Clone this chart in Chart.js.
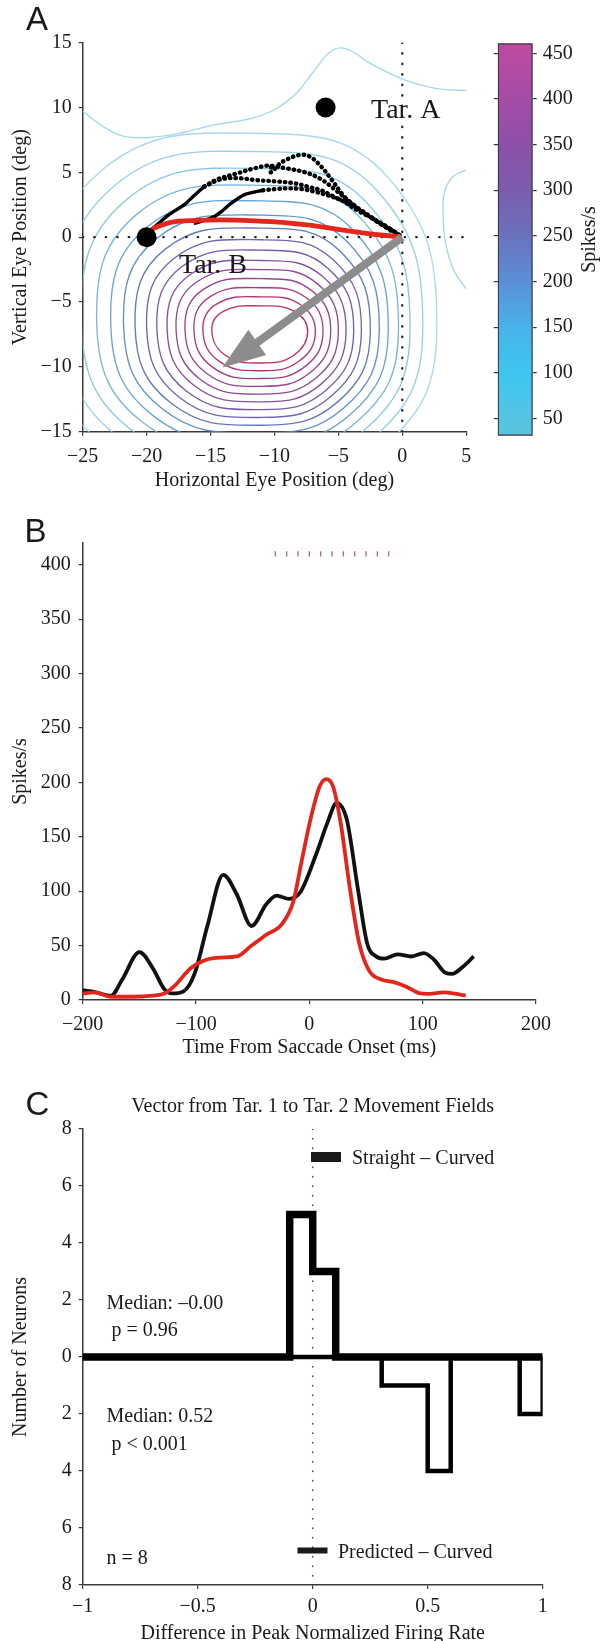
<!DOCTYPE html>
<html>
<head>
<meta charset="utf-8">
<script src="https://cdn.jsdelivr.net/npm/chart.js@4.4.1/dist/chart.umd.min.js"></script>
<style>
  body { margin: 0; background: #fff; width: 602px; height: 1641px; position: relative; overflow: hidden; }
  canvas { position: absolute; }
</style>
</head>
<body>
<canvas id="chartA" width="480" height="493" style="left:0;top:0"></canvas>
<canvas id="chartCb" width="122" height="493" style="left:480px;top:0"></canvas>
<canvas id="chartB" width="560" height="560" style="left:0;top:500px"></canvas>
<canvas id="chartC" width="560" height="566" style="left:0;top:1080px"></canvas>
<script>
// ---------- panel A: movement field + eye traces ----------
const xTicksA = [-25, -20, -15, -10, -5, 0, 5];
const yTicksA = [-15, -10, -5, 0, 5, 10, 15];
const targetA = [[-6, 10]];
const targetB = [[-20, 0]];

// contour rings, innermost first (x, y in deg)
const rings = [
  [[-14.9,-7.2],[-13.96,-5.7],[-11,-5.3],[-8.41,-5.74],[-7.4,-7.3],[-8.48,-9.1],[-11,-9.7],[-13.81,-9.12]],
  [[-15.6,-7.17],[-14.5,-5.14],[-11,-4.6],[-7.98,-5.19],[-6.8,-7.3],[-8.06,-9.55],[-11,-10.3],[-14.31,-9.58]],
  [[-16.3,-7.13],[-15.03,-4.58],[-11,-3.9],[-7.54,-4.65],[-6.2,-7.3],[-7.64,-10.0],[-11,-10.9],[-14.82,-10.04]],
  [[-17,-7.1],[-15.56,-4.02],[-11,-3.2],[-7.11,-4.1],[-5.6,-7.3],[-7.22,-10.45],[-11,-11.5],[-15.32,-10.49]],
  [[-17.7,-7.06],[-16.09,-3.46],[-11,-2.5],[-6.68,-3.56],[-5,-7.3],[-6.8,-10.9],[-11,-12.1],[-15.82,-10.95]],
  [[-18.4,-7.03],[-16.62,-2.9],[-11,-1.8],[-6.25,-3.01],[-4.4,-7.3],[-6.38,-11.35],[-11,-12.7],[-16.33,-11.4]],
  [[-19.2,-6.99],[-17.23,-2.26],[-11,-1.0],[-5.82,-2.39],[-3.8,-7.3],[-5.96,-11.8],[-11,-13.3],[-16.9,-11.86]],
  [[-20,-6.95],[-17.84,-1.62],[-11,-0.2],[-5.38,-1.76],[-3.2,-7.3],[-5.54,-12.25],[-11,-13.9],[-17.48,-12.32]],
  [[-20.9,-6.9],[-18.52,-0.9],[-11,0.7],[-4.88,-1.06],[-2.5,-7.3],[-5.05,-12.7],[-11,-14.5],[-18.13,-12.77]],
  [[-21.8,-6.85],[-19.21,-0.1],[-11,1.7],[-4.38,-0.28],[-1.8,-7.3],[-4.56,-13.15],[-11,-15.1],[-18.78,-13.23]],
  [[-22.8,-6.8],[-19.97,0.78],[-11,2.8],[-3.87,0.58],[-1.1,-7.3],[-4.07,-13.68],[-11,-15.8],[-19.5,-13.76]],
  [[-23.9,-6.74],[-20.8,1.74],[-11,4.0],[-3.3,1.51],[-0.3,-7.3],[-3.51,-14.2],[-11,-16.5],[-20.29,-14.29]],
  [[-25.1,-6.67],[-21.72,2.78],[-11,5.3],[-2.65,2.53],[0.6,-7.3],[-2.88,-14.8],[-11,-17.3],[-21.15,-14.9]],
  [[-26.4,-6.6],[-22.7,3.82],[-11,6.6],[-1.93,3.54],[1.6,-7.3],[-2.18,-15.4],[-11,-18.1],[-22.09,-15.51]],
  [[-27.8,-6.54],[-23.77,4.94],[-11,8.0],[-1.14,4.63],[2.7,-7.3],[-1.41,-16.08],[-11,-19.0],[-23.1,-16.19]]
];
const ringColors = ['#c22e62','#b83474','#aa3c84','#9c4490','#904a98','#8452a0','#785caa','#6c68b4',
                    '#647abf','#6290cc','#68a6d8','#78b8e0','#8ac6e6','#9ccfea','#acd8ee'];
const topContour = [[-25,9.7],[-23,8.3],[-21.3,7.7],[-18,7.9],[-15,8.6],[-11,9.4],[-8.5,10.9],[-7,12.7],
                    [-5.5,14.4],[-4.3,14.5],[-2.5,13.4],[0,12.2],[2.5,11.5],[5,11.3]];
const rightContour = [[5,5.2],[4,4.7],[3.3,3.5],[3.2,1.5],[3.4,-0.5],[4,-2.5],[5,-4]];

// eye traces
const redPath = [[-19.45,0.7],[-18.1,1.15],[-16,1.3],[-14,1.33],[-12,1.28],[-10.15,1.2],[-8,1.0],
                 [-6.3,0.8],[-3.8,0.43],[-1.7,0.17],[-0.2,0.05]];
const blackStart = [[-19.6,0.6],[-18.9,1.2],[-18.3,1.7],[-17.0,2.55],[-16.3,3.2],[-15.5,3.9]];
const blackTop = [[-15.5,3.9],[-14.5,4.45],[-13,4.9],[-11.4,5.35],[-10.3,5.5],[-10.3,5.0],[-9.4,5.8],
                  [-8.0,6.35],[-7.2,6.2],[-6.3,5.4],[-5.5,4.4],[-4.5,3.1],[-3.3,2.1],[-1.7,1.05],[-0.2,0.15]];
const blackSecond = [[-10.2,5.5],[-9.0,5.3],[-7.6,5.0],[-6.4,4.5],[-5.3,3.7],[-4.2,2.8],[-3.0,1.9],[-1.6,0.95],[-0.2,0.1]];
const blackMid = [[-15.5,3.9],[-14.2,4.46],[-12.8,4.55],[-11.4,4.4],[-9.8,4.3],[-8.4,4.15],[-7.2,3.85],[-6.3,3.6],
                  [-5.3,3.1],[-4.5,2.7],[-3.4,2.0],[-2.5,1.55],[-1.2,0.8],[-0.2,0.15]];
const blackLowStart = [[-16.3,1.05],[-15.5,1.3],[-14.7,1.6],[-14.0,2.1],[-13.4,2.6],[-12.4,3.25],[-11.5,3.5],[-10.9,3.62]];
const blackLow = [[-10.9,3.62],[-9.8,3.72],[-8.9,3.77],[-7.8,3.7],[-6.8,3.5],[-5.9,3.25],[-5.0,2.95],[-4.2,2.6],
                  [-3.3,2.1],[-2.5,1.6],[-1.7,1.05],[-0.9,0.6],[-0.2,0.15]];
const arrowShaft = [[0,0],[-11.6,-8.3]];
const arrowHead = [[-12.04,-7.19],[-14,-10],[-10.71,-9.07],[-12.04,-7.19]];

// ---------- colour bar ----------
const cbRange = [31, 461];
const cbTicks = [50, 100, 150, 200, 250, 300, 350, 400, 450];
const cbStops = [[31,'#5cc3df'],[100,'#3ec6f0'],[150,'#49b2ea'],[200,'#5a8fd6'],[250,'#6b72bd'],
                 [300,'#7b5cae'],[350,'#8d50aa'],[400,'#a44ca6'],[461,'#bf4aa0']];

// ---------- panel B: firing rate ----------
const xTicksB = [-200, -100, 0, 100, 200];
const yTicksB = [0, 50, 100, 150, 200, 250, 300, 350, 400];
const blackT = [-200,-192,-175,-165,-150,-138,-128,-121,-111,-101,-90,-76,-64,-51,-38,-29,-18,-8,6,16,24,33,43,51,59,66,78,90,101,110,120,126,135,145];
const blackRate = [9,8,4,19,44,29,10,6,8,25,68,115,97,68,88,96,93,99,134,163,181,166,101,52,40,38,42,40,43,37,25,24,30,40];
const redT = [-200,-190,-175,-155,-138,-128,-118,-105,-91,-78,-64,-51,-38,-24,-14,-7.5,1,9,15,21,27.6,36,44,52.7,62.8,76,86,96,106,118,130,138];
const redRate = [6,7,3,3,4,6,14,29,37,39,40,50,60,70,91,124,166,196,203,196,163,101,52,27,19,16,12,6.6,5.6,7,5.6,4];
const stimTicks = [-30,-20,-10,0,10,20,30,40,50,60,70];

// ---------- panel C: histogram ----------
const xTicksC = [-1, -0.5, 0, 0.5, 1];
const yTicksC = [-8, -6, -4, -2, 0, 2, 4, 6, 8];
const binEdges = [-1,-0.9,-0.8,-0.7,-0.6,-0.5,-0.4,-0.3,-0.2,-0.1,0,0.1,0.2,0.3,0.4,0.5,0.6,0.7,0.8,0.9,1];
const straightCounts = [0,0,0,0,0,0,0,0,0,5,3,0,0,0,0,0,0,0,0,0];
const predictedCounts = [0,0,0,0,0,0,0,0,0,0,0,0,0,1,1,4,0,0,0,2];

const serif = '"Liberation Serif", "Times New Roman", serif';
const sans = '"Liberation Sans", Arial, sans-serif';
const ink = '#1a1a1a';
const axisGrey = '#3a3a3a';
const minus = v => (v < 0 ? '\u2212' + Math.abs(v) : String(v));

Chart.defaults.font.family = serif;
Chart.defaults.font.size = 20;
Chart.defaults.color = ink;

const pts = a => a.map(p => ({ x: p[0], y: p[1] }));
// closed ring: wrap one point on each side so the spline is smooth at the seam,
// then hide the two helper segments
const loop = a => pts([a[a.length - 1]].concat(a, [a[0], a[1]]));

const notes = {
  id: 'notes',
  afterDraw(chart, args, opts) {
    const c = chart.ctx;
    (opts.boxes || []).forEach(b => {
      c.fillStyle = b.color || ink;
      c.fillRect(b.x, b.y, b.w, b.h);
    });
    (opts.items || []).forEach(it => {
      c.save();
      c.font = it.font;
      c.fillStyle = it.color || ink;
      c.textAlign = it.align || 'left';
      c.textBaseline = it.baseline || 'alphabetic';
      c.translate(it.x, it.y);
      if (it.rot) c.rotate(it.rot);
      c.fillText(it.text, 0, 0);
      c.restore();
    });
  }
};

function axis(opts) {
  return {
    type: 'linear',
    min: opts.min, max: opts.max,
    afterBuildTicks: s => { s.ticks = opts.ticks.map(v => ({ value: v })); },
    afterFit: s => { if (opts.w !== undefined) s.width = opts.w; if (opts.h !== undefined) s.height = opts.h; },
    grid: { drawOnChartArea: false, tickLength: 4, color: axisGrey, lineWidth: 1.2 },
    border: { color: axisGrey, width: 1.5 },
    ticks: {
      font: { family: serif, size: 20 }, color: ink, padding: opts.pad,
      maxRotation: 0, autoSkip: false, callback: opts.fmt || (v => minus(v))
    },
    title: opts.title ? { display: true, text: opts.title, font: { family: serif, size: 20 }, color: ink, padding: 0 } : { display: false }
  };
}

const common = {
  responsive: false,
  animation: false,
  events: [],
  elements: { line: { capBezierPoints: false } }
};

// ---- chart A ----
const dsA = [];
rings.forEach((r, i) => {
  const last = r.length + 2;
  dsA.push({ data: loop(r), showLine: true, borderColor: ringColors[i], borderWidth: 1.35,
             pointRadius: 0, tension: 0.45, order: 10,
             segment: { borderColor: ctx => (ctx.p0DataIndex === 0 || ctx.p1DataIndex === last ? 'rgba(0,0,0,0)' : undefined) } });
});
[topContour, rightContour].forEach(r => {
  dsA.push({ data: pts(r), showLine: true, borderColor: '#a6d8ea', borderWidth: 1.35, pointRadius: 0, tension: 0.4, order: 10 });
});
dsA.push({ data: [{x:-25,y:0},{x:5,y:0}], showLine: true, borderColor: '#222', borderWidth: 2.2,
           borderDash: [0.5, 11], borderCapStyle: 'round', pointRadius: 0, order: 9 });
dsA.push({ data: [{x:0,y:-15},{x:0,y:15}], showLine: true, borderColor: '#222', borderWidth: 2.2,
           borderDash: [0.5, 10], borderCapStyle: 'round', pointRadius: 0, order: 9 });
[blackStart, blackLowStart].forEach(p => {
  dsA.push({ data: pts(p), showLine: true, borderColor: '#000', borderWidth: 3.4, pointRadius: 0, tension: 0.3, order: 5 });
});
[blackTop, blackSecond, blackMid, blackLow].forEach(p => {
  dsA.push({ data: pts(p), showLine: true, borderColor: '#000', borderWidth: 4.4, borderDash: [0.5, 5],
             borderCapStyle: 'round', pointRadius: 0, tension: 0.35, order: 5 });
});
dsA.push({ data: pts(redPath), showLine: true, borderColor: '#e5261c', borderWidth: 4.8, borderCapStyle: 'round',
           pointRadius: 0, tension: 0.4, order: 4 });
dsA.push({ data: pts(arrowShaft), showLine: true, borderColor: '#8c8c8c', borderWidth: 8, pointRadius: 0, order: 3 });
dsA.push({ data: pts(arrowHead), showLine: true, borderColor: '#8c8c8c', backgroundColor: '#8c8c8c', borderWidth: 1,
           fill: 'shape', pointRadius: 0, tension: 0, order: 3 });
dsA.push({ data: pts(targetA.concat(targetB)), pointRadius: 10, pointBackgroundColor: '#000', pointBorderWidth: 0, order: 1 });

new Chart(document.getElementById('chartA'), {
  type: 'scatter',
  data: { datasets: dsA },
  options: Object.assign({}, common, {
    layout: { padding: { left: 9, right: 6, top: 42.7, bottom: 0 } },
    plugins: {
      legend: { display: false }, tooltip: { enabled: false },
      notes: { items: [
        { text: 'A', x: 26, y: 30, font: '33px ' + sans },
        { text: 'Tar. A', x: 371, y: 118, font: '28px ' + serif },
        { text: 'Tar. B', x: 179, y: 273, font: '28px ' + serif }
      ] }
    },
    scales: {
      x: axis({ min: -25, max: 5, ticks: xTicksA, h: 61.3, pad: 8.8, title: 'Horizontal Eye Position (deg)' }),
      y: axis({ min: -15, max: 15, ticks: yTicksA, w: 73.7, pad: 7, title: 'Vertical Eye Position (deg)' })
    }
  }),
  plugins: [notes]
});

// ---- colour bar ----
new Chart(document.getElementById('chartCb'), {
  type: 'bar',
  data: { labels: [''], datasets: [{
    data: [cbRange],
    barPercentage: 1, categoryPercentage: 1, borderWidth: 1.5, borderColor: '#333', borderSkipped: false,
    backgroundColor: ctx => {
      const area = ctx.chart.chartArea;
      if (!area) return '#888';
      const g = ctx.chart.ctx.createLinearGradient(0, area.bottom, 0, area.top);
      cbStops.forEach(s => g.addColorStop((s[0] - cbRange[0]) / (cbRange[1] - cbRange[0]), s[1]));
      return g;
    }
  }] },
  options: Object.assign({}, common, {
    layout: { padding: { left: 17.7, right: 19.3, top: 43.3, bottom: 57.3 } },
    plugins: {
      legend: { display: false }, tooltip: { enabled: false },
      notes: { items: [
        { text: 'Spikes/s', x: 110, y: 239.5, font: '20px ' + serif, align: 'center', baseline: 'middle', rot: -Math.PI / 2 }
      ] }
    },
    scales: {
      x: { display: false },
      y: Object.assign(axis({ min: cbRange[0], max: cbRange[1], ticks: cbTicks, w: 50, pad: 6 }),
                       { position: 'right', border: { display: false } }),
      y2: Object.assign(axis({ min: cbRange[0], max: cbRange[1], ticks: cbTicks, w: 0, pad: 0 }),
                        { position: 'left', border: { display: false } })
    }
  }),
  plugins: [notes]
});

// ---- chart B ----
new Chart(document.getElementById('chartB'), {
  type: 'scatter',
  data: { datasets: [
    { data: redT.map((t, i) => ({ x: t, y: redRate[i] })), showLine: true, borderColor: '#e3261c', borderWidth: 3.8,
      pointRadius: 0, cubicInterpolationMode: 'monotone', order: 1 },
    { data: blackT.map((t, i) => ({ x: t, y: blackRate[i] })), showLine: true, borderColor: '#111', borderWidth: 3.8,
      pointRadius: 0, cubicInterpolationMode: 'monotone', order: 2 },
    { data: stimTicks.map(t => ({ x: t, y: 410 })), pointStyle: 'line', rotation: 90, pointRadius: 2.6,
      borderColor: '#b86a6a', pointBorderWidth: 1.3, order: 3 }
  ] },
  options: Object.assign({}, common, {
    layout: { padding: { left: 9, right: 21.3, top: 43, bottom: 0 } },
    plugins: {
      legend: { display: false }, tooltip: { enabled: false },
      notes: { items: [ { text: 'B', x: 24.5, y: 42, font: '33px ' + sans } ] }
    },
    scales: {
      x: axis({ min: -200, max: 200, ticks: xTicksB, h: 60, pad: 9, title: 'Time From Saccade Onset (ms)' }),
      y: axis({ min: 0, max: 420, ticks: yTicksB, w: 73.7, pad: 8, title: 'Spikes/s' })
    }
  }),
  plugins: [notes]
});

// ---- chart C ----
const stepData = (counts, sign) => binEdges.map((e, i) => ({ x: e, y: i < counts.length ? sign * counts[i] : 0 }));
new Chart(document.getElementById('chartC'), {
  type: 'scatter',
  data: { datasets: [
    { data: stepData(straightCounts, 1), showLine: true, stepped: 'before', borderColor: '#000', borderWidth: 7.5,
      borderJoinStyle: 'miter', pointRadius: 0, order: 1 },
    { data: stepData(predictedCounts, -1), showLine: true, stepped: 'before', borderColor: '#000', borderWidth: 4.5,
      borderJoinStyle: 'miter', pointRadius: 0, order: 2 },
    { data: [{ x: 0, y: 8 }, { x: 0, y: -7.7 }], showLine: true, borderColor: '#555', borderWidth: 1.6,
      borderDash: [0.5, 9], borderCapStyle: 'round', pointRadius: 0, order: 3 }
  ] },
  options: Object.assign({}, common, {
    layout: { padding: { left: 9, right: 17.3, top: 49, bottom: 0 } },
    plugins: {
      legend: { display: false }, tooltip: { enabled: false },
      notes: {
        boxes: [ { x: 311, y: 72, w: 30, h: 10 }, { x: 297.5, y: 467.5, w: 30, h: 6 } ],
        items: [
          { text: 'C', x: 25.5, y: 35, font: '33px ' + sans },
          { text: 'Vector from Tar. 1 to Tar. 2 Movement Fields', x: 312.7, y: 32, font: '20px ' + serif, align: 'center' },
          { text: 'Straight \u2013 Curved', x: 352, y: 84, font: '20px ' + serif },
          { text: 'Predicted \u2013 Curved', x: 338, y: 478, font: '20px ' + serif },
          { text: 'Median: \u20130.00', x: 106.5, y: 228.7, font: '20px ' + serif },
          { text: 'p = 0.96', x: 111.5, y: 255.6, font: '20px ' + serif },
          { text: 'Median: 0.52', x: 106.5, y: 342, font: '20px ' + serif },
          { text: 'p < 0.001', x: 111.5, y: 370, font: '20px ' + serif },
          { text: 'n = 8', x: 106.5, y: 484, font: '20px ' + serif }
        ]
      }
    },
    scales: {
      x: axis({ min: -1, max: 1, ticks: xTicksC, h: 61, pad: 6, title: 'Difference in Peak Normalized Firing Rate' }),
      y: axis({ min: -8, max: 8, ticks: yTicksC, w: 73.7, pad: 7, title: 'Number of Neurons', fmt: v => String(Math.abs(v)) })
    }
  }),
  plugins: [notes]
});
</script>
</body>
</html>
